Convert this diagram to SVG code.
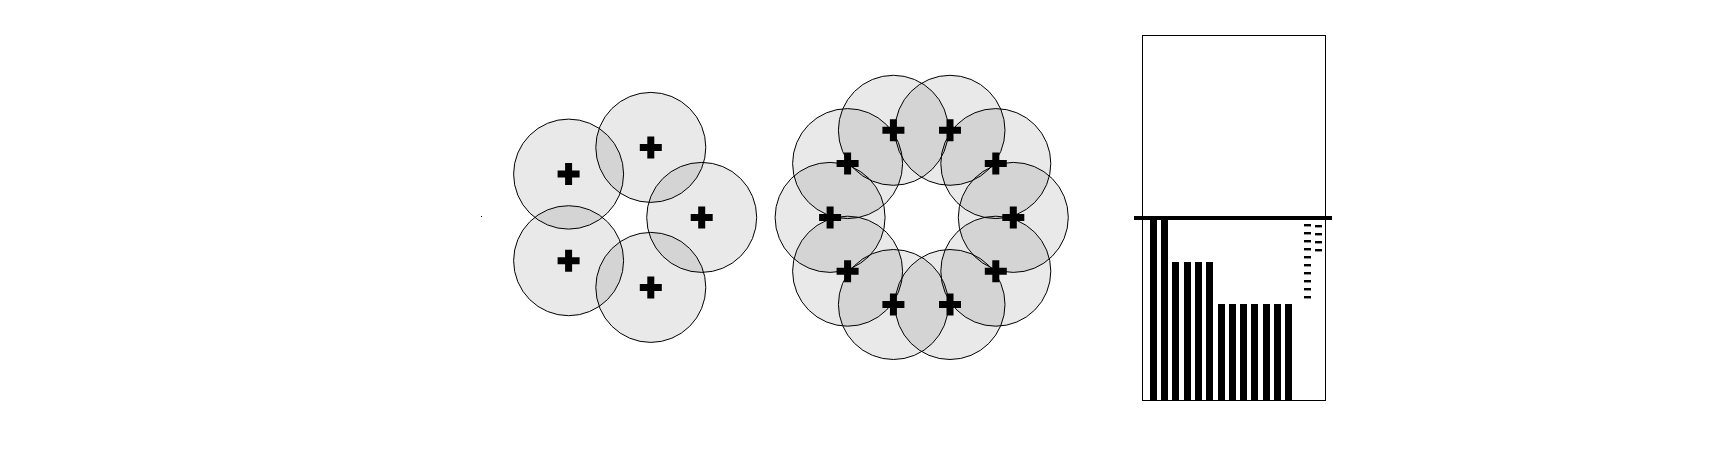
<svg xmlns="http://www.w3.org/2000/svg" xmlns:xlink="http://www.w3.org/1999/xlink" width="1725" height="450" viewBox="0 0 1725 450">
  <style>
    .c { fill: #000; fill-opacity: 0.086; stroke: #000; stroke-width: 1; }
    .x { fill: #000; }
    .bar { fill: #000; }
  </style>
  <defs>
    <path id="cross" d="M-11,-3.5h22v7h-22z M-3.5,-11h7v22h-7z"/>
  </defs>
  <rect width="1725" height="450" fill="#fff"/>
  <rect x="481" y="216" width="1" height="1" fill="#000"/>

  <g id="pentagon">
    <g id="p1"><circle class="c" cx="701.7" cy="217.4" r="55"/></g>
    <g id="p2"><circle class="c" cx="650.8" cy="147.4" r="55"/></g>
    <g id="p3"><circle class="c" cx="568.6" cy="174.1" r="55"/></g>
    <g id="p4"><circle class="c" cx="568.6" cy="260.7" r="55"/></g>
    <g id="p5"><circle class="c" cx="650.8" cy="287.4" r="55"/></g>
    <g id="pcross" class="x">
      <use xlink:href="#cross" x="701.7" y="217.4"/>
      <use xlink:href="#cross" x="650.8" y="147.4"/>
      <use xlink:href="#cross" x="568.6" y="174.1"/>
      <use xlink:href="#cross" x="568.6" y="260.7"/>
      <use xlink:href="#cross" x="650.8" y="287.4"/>
    </g>
  </g>

  <g id="decagon">
    <g id="d1"><circle class="c" cx="1013.3" cy="217.4" r="55"/></g>
    <g id="d2"><circle class="c" cx="995.8" cy="163.6" r="55"/></g>
    <g id="d3"><circle class="c" cx="950.0" cy="130.3" r="55"/></g>
    <g id="d4"><circle class="c" cx="893.4" cy="130.3" r="55"/></g>
    <g id="d5"><circle class="c" cx="847.6" cy="163.6" r="55"/></g>
    <g id="d6"><circle class="c" cx="830.1" cy="217.4" r="55"/></g>
    <g id="d7"><circle class="c" cx="847.6" cy="271.2" r="55"/></g>
    <g id="d8"><circle class="c" cx="893.4" cy="304.5" r="55"/></g>
    <g id="d9"><circle class="c" cx="950.0" cy="304.5" r="55"/></g>
    <g id="d10"><circle class="c" cx="995.8" cy="271.2" r="55"/></g>
    <g id="dcross" class="x">
      <use xlink:href="#cross" x="1013.3" y="217.4"/>
      <use xlink:href="#cross" x="995.8" y="163.6"/>
      <use xlink:href="#cross" x="950.0" y="130.3"/>
      <use xlink:href="#cross" x="893.4" y="130.3"/>
      <use xlink:href="#cross" x="847.6" y="163.6"/>
      <use xlink:href="#cross" x="830.1" y="217.4"/>
      <use xlink:href="#cross" x="847.6" y="271.2"/>
      <use xlink:href="#cross" x="893.4" y="304.5"/>
      <use xlink:href="#cross" x="950.0" y="304.5"/>
      <use xlink:href="#cross" x="995.8" y="271.2"/>
    </g>
  </g>

  <g id="chart">
    <rect x="1142.5" y="35.5" width="183" height="365" fill="none" stroke="#000" stroke-width="1"/>
    <g class="bar">
      <rect x="1150" y="218" width="7" height="182"/>
      <rect x="1161" y="218" width="7" height="182"/>
      <rect x="1172" y="262" width="7" height="138"/>
      <rect x="1184" y="262" width="7" height="138"/>
      <rect x="1195" y="262" width="7" height="138"/>
      <rect x="1206" y="262" width="7" height="138"/>
      <rect x="1218" y="304" width="7" height="96"/>
      <rect x="1229" y="304" width="7" height="96"/>
      <rect x="1240" y="304" width="7" height="96"/>
      <rect x="1251" y="304" width="7" height="96"/>
      <rect x="1263" y="304" width="7" height="96"/>
      <rect x="1274" y="304" width="7" height="96"/>
      <rect x="1285" y="304" width="7" height="96"/>
    </g>
    <g class="bar">
      <rect x="1304" y="224" width="7" height="2.4"/>
      <rect x="1304" y="232" width="7" height="2.4"/>
      <rect x="1304" y="240" width="7" height="2.4"/>
      <rect x="1304" y="248" width="7" height="2.4"/>
      <rect x="1304" y="256" width="7" height="2.4"/>
      <rect x="1304" y="264" width="7" height="2.4"/>
      <rect x="1304" y="272" width="7" height="2.4"/>
      <rect x="1304" y="280" width="7" height="2.4"/>
      <rect x="1304" y="288" width="7" height="2.4"/>
      <rect x="1304" y="296" width="7" height="2.4"/>
      <rect x="1315" y="225" width="7" height="2.4"/>
      <rect x="1315" y="233" width="7" height="2.4"/>
      <rect x="1315" y="241" width="7" height="2.4"/>
      <rect x="1315" y="249" width="7" height="2.4"/>
    </g>
    <rect x="1134" y="216" width="198" height="4" fill="#000"/>
  </g>
</svg>
